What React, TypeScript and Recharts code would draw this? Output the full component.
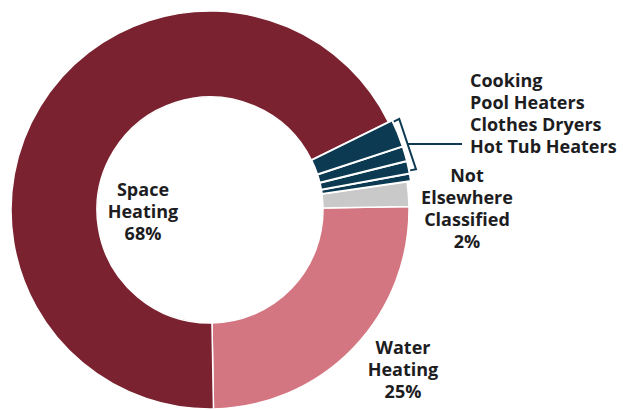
import React from 'react';
import { PieChart, Pie, Cell } from 'recharts';

// Residential end uses, clockwise from the bottom of the ring
const categories = [
  'Water Heating',
  'Not Elsewhere Classified',
  'Hot Tub Heaters',
  'Clothes Dryers',
  'Pool Heaters',
  'Cooking',
  'Space Heating',
];
const shares = [25, 2, 0.6, 1.0, 1.2, 2.2, 68];

// the four small uses share one bracketed label
const smallUses = ['Hot Tub Heaters', 'Clothes Dryers', 'Pool Heaters', 'Cooking'];
const smallUseListOrder = ['Cooking', 'Pool Heaters', 'Clothes Dryers', 'Hot Tub Heaters'];

const labelLines: Record<string, string[]> = {
  'Space Heating': ['Space', 'Heating'],
  'Water Heating': ['Water', 'Heating'],
  'Not Elsewhere Classified': ['Not', 'Elsewhere', 'Classified'],
};

const COLORS: Record<string, string> = {
  'Space Heating': '#7a222f',
  'Water Heating': '#d47681',
  'Not Elsewhere Classified': '#c9c9c9',
  'Hot Tub Heaters': '#0c3a52',
  'Clothes Dryers': '#0c3a52',
  'Pool Heaters': '#0c3a52',
  'Cooking': '#0c3a52',
};

const data = categories.map((name, i) => ({ name, value: shares[i] }));

const grouped = [
  { name: 'Water Heating', value: shares[0] },
  { name: 'Not Elsewhere Classified', value: shares[1] },
  {
    name: 'Other',
    value: data.filter((d) => smallUses.includes(d.name)).reduce((s, d) => s + d.value, 0),
  },
  { name: 'Space Heating', value: shares[6] },
];

const CX = 210;
const CY = 210;
const INNER = 113;
const OUTER = 199;
const OUTER_SMALL = 203;
const START = -89;
const FONT = '"Open Sans", sans-serif';
const FONT_SIZE = 18;
const LINE_GAP = 22;
const TEXT = '#1d1d1f';

// where each text block is centred
const anchors: Record<string, { x: number; y: number }> = {
  'Space Heating': { x: 143, y: 211 },
  'Water Heating': { x: 403, y: 369 },
  'Not Elsewhere Classified': { x: 467, y: 208 },
};

const RAD = Math.PI / 180;
const polar = (cx: number, cy: number, r: number, a: number) => ({
  x: cx + r * Math.cos(a * RAD),
  y: cy - r * Math.sin(a * RAD),
});

// one <text> per block, one <tspan> per line
const TextBlock = ({ x, y, lines, anchor }: any) => (
  <text
    x={x}
    y={y}
    textAnchor={anchor}
    dominantBaseline="central"
    fontFamily={FONT}
    fontWeight={700}
    fontSize={FONT_SIZE}
    fill={TEXT}
  >
    {lines.map((t: string, i: number) => (
      <tspan key={i} x={x} dy={i === 0 ? 0 : LINE_GAP}>
        {t}
      </tspan>
    ))}
  </text>
);

const renderLabel = (props: any) => {
  const { name, value, cx, cy, outerRadius, startAngle, endAngle } = props;
  if (name === 'Other') {
    const r = outerRadius + 7;
    const top = polar(cx, cy, r, endAngle - 0.5);
    const bot = polar(cx, cy, r, startAngle + 3);
    const topIn = polar(cx, cy, outerRadius + 1, endAngle - 0.5);
    const botIn = polar(cx, cy, outerRadius + 1, startAngle + 3);
    const midY = (top.y + bot.y) / 2;
    const midX = (top.x + bot.x) / 2;
    const textX = 470;
    return (
      <g>
        <polyline
          points={`${topIn.x},${topIn.y} ${top.x},${top.y} ${bot.x},${bot.y} ${botIn.x},${botIn.y}`}
          fill="none"
          stroke="#0c3a52"
          strokeWidth={2}
        />
        <line x1={midX} y1={midY} x2={textX - 8} y2={midY} stroke="#0c3a52" strokeWidth={2} />
        <TextBlock x={textX} y={80} lines={smallUseListOrder} anchor="start" />
      </g>
    );
  }
  const a = anchors[name];
  if (!a) return null;
  const lines = [...labelLines[name], `${value}%`];
  const y0 = a.y - ((lines.length - 1) * LINE_GAP) / 2;
  return <TextBlock x={a.x} y={y0} lines={lines} anchor="middle" />;
};

export default function App() {
  return (
    <div style={{ position: 'absolute', left: 0, top: 0, background: '#fff' }}>
      <PieChart width={623} height={410} margin={{ top: 0, right: 0, bottom: 0, left: 0 }}>
        {/* large slices */}
        <Pie
          data={data}
          dataKey="value"
          nameKey="name"
          cx={CX}
          cy={CY}
          innerRadius={INNER}
          outerRadius={OUTER}
          startAngle={START}
          endAngle={START + 360}
          stroke="#ffffff"
          strokeWidth={1.5}
          isAnimationActive={false}
        >
          {data.map((d) => (
            <Cell
              key={d.name}
              fill={smallUses.includes(d.name) ? 'none' : COLORS[d.name]}
              stroke={smallUses.includes(d.name) ? 'none' : '#ffffff'}
            />
          ))}
        </Pie>
        {/* small uses, drawn slightly proud of the ring */}
        <Pie
          data={data}
          dataKey="value"
          nameKey="name"
          cx={CX}
          cy={CY}
          innerRadius={INNER}
          outerRadius={OUTER_SMALL}
          startAngle={START}
          endAngle={START + 360}
          strokeWidth={2}
          isAnimationActive={false}
        >
          {data.map((d) => (
            <Cell
              key={d.name}
              fill={smallUses.includes(d.name) ? COLORS[d.name] : 'none'}
              stroke={smallUses.includes(d.name) ? '#ffffff' : 'none'}
            />
          ))}
        </Pie>
        {/* labels and bracket */}
        <Pie
          data={grouped}
          dataKey="value"
          nameKey="name"
          cx={CX}
          cy={CY}
          innerRadius={INNER}
          outerRadius={OUTER_SMALL}
          startAngle={START}
          endAngle={START + 360}
          fill="none"
          stroke="none"
          label={renderLabel}
          labelLine={false}
          isAnimationActive={false}
        />
      </PieChart>
    </div>
  );
}
